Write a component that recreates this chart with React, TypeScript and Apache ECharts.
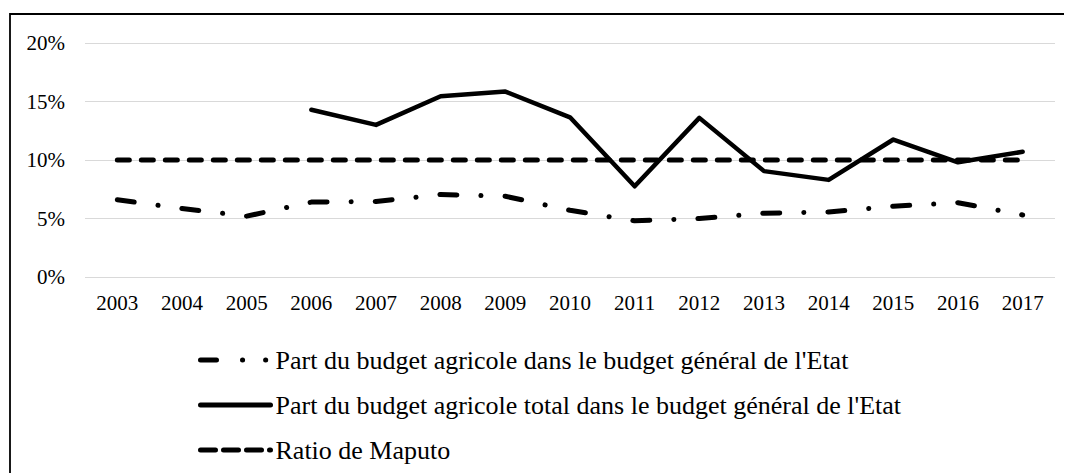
import React, { useEffect, useRef } from "react";
import * as echarts from "echarts";

const years = ["2003","2004","2005","2006","2007","2008","2009","2010","2011","2012","2013","2014","2015","2016","2017"];
const partBudget = [6.6, 5.85, 5.2, 6.4, 6.45, 7.05, 6.9, 5.7, 4.8, 5.0, 5.45, 5.55, 6.05, 6.35, 5.3];
const partTotal = [null, null, null, 14.3, 13.0, 15.45, 15.85, 13.65, 7.75, 13.6, 9.05, 8.3, 11.75, 9.8, 10.7];
const maputo = [10, 10, 10, 10, 10, 10, 10, 10, 10, 10, 10, 10, 10, 10, 10];
const seriesNames = [
  "Part du budget agricole dans le budget général de l'Etat",
  "Part du budget agricole total dans le budget général de l'Etat",
  "Ratio de Maputo",
];

const FONT = "Liberation Serif";

export default function App() {
  const ref = useRef<HTMLDivElement>(null);
  useEffect(() => {
    const el = ref.current;
    if (!el) return;
    const chart = echarts.init(el, undefined, { renderer: "svg" });
    chart.setOption({
      animation: false,
      grid: { left: 77, right: 17, top: 35, bottom: 196 },
      graphic: [
        {
          type: "rect",
          shape: { x: 2, y: 6, width: 1100, height: 500 },
          style: { fill: "none", stroke: "#000", lineWidth: 1.8 },
          silent: true,
          z: 100,
        },
      ],
      xAxis: {
        type: "category",
        data: years,
        boundaryGap: true,
        axisLine: { show: false },
        axisTick: { show: false },
        axisLabel: { fontSize: 21, fontFamily: FONT, color: "#000", margin: 15 },
      },
      yAxis: {
        type: "value",
        min: 0,
        max: 20,
        interval: 5,
        axisLine: { show: false },
        axisTick: { show: false },
        axisLabel: { fontSize: 21, fontFamily: FONT, color: "#000", margin: 20, formatter: "{value}%" },
        splitLine: { lineStyle: { color: "#d9d9d9", width: 1.2 } },
      },
      legend: {
        orient: "vertical",
        left: 185,
        top: 334,
        itemWidth: 70,
        itemHeight: 5,
        itemGap: 19,
        itemStyle: { opacity: 0 },
        textStyle: { fontSize: 26, fontFamily: FONT, color: "#000" },
        data: [
          { name: seriesNames[0], lineStyle: { width: 5, type: [16, 26, 0.1, 23, 0.1, 40], cap: "round" } },
          { name: seriesNames[1], lineStyle: { width: 5, type: "solid", cap: "round" } },
          { name: seriesNames[2], lineStyle: { width: 5, type: [15, 8], cap: "round" } },
        ],
      },
      series: [
        {
          name: seriesNames[0],
          type: "line",
          data: partBudget,
          symbol: "none",
          z: 2,
          itemStyle: { color: "#000" },
          lineStyle: { color: "#000", width: 5, type: [17, 24, 0.1, 24], cap: "round", join: "round" },
        },
        {
          name: seriesNames[1],
          type: "line",
          data: partTotal,
          symbol: "none",
          z: 4,
          itemStyle: { color: "#000" },
          lineStyle: { color: "#000", width: 4.5, type: "solid", cap: "round", join: "round" },
        },
        {
          name: seriesNames[2],
          type: "line",
          data: maputo,
          symbol: "none",
          z: 3,
          itemStyle: { color: "#000" },
          lineStyle: { color: "#000", width: 5, type: [12, 12], cap: "round", join: "round" },
        },
      ],
    });
    return () => {
      chart.dispose();
    };
  }, []);
  return (
    <div>
      <div ref={ref} style={{ width: 1064, height: 465 }} />
    </div>
  );
}
